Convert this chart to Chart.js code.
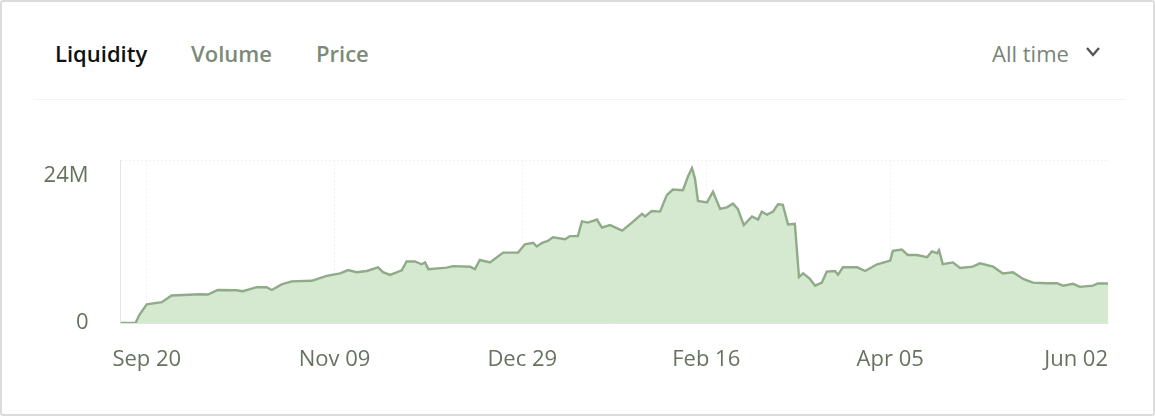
<!DOCTYPE html>
<html>
<head>
<meta charset="utf-8">
<script src="https://cdn.jsdelivr.net/npm/chart.js@4/dist/chart.umd.min.js"></script>
<style>
  html, body { margin: 0; padding: 0; background: #fff; }
  body { width: 1155px; height: 416px; position: relative; overflow: hidden; font-family: "Open Sans", sans-serif; }
  .card { position: absolute; left: 0; top: 0; width: 1151px; height: 412px; border: 2px solid #dcdcdc; border-radius: 3px; }
  .tab { position: absolute; top: 38px; font-size: 22px; font-weight: 600; color: #7c8a78; line-height: 30px; }
  .tab.active { color: #111; }
  .range { position: absolute; top: 38px; left: 992px; font-size: 22px; color: #7a8477; line-height: 30px; }
  .chev { position: absolute; left: 1085px; top: 46px; }
  .divider { position: absolute; left: 33px; top: 99px; width: 1092px; height: 1px; background: #f1f2f1; }
  #wrap { position: absolute; left: 0; top: 115px; width: 1155px; height: 265px; }
</style>
</head>
<body>
<div class="card"></div>
<div class="tab active" style="left:55px">Liquidity</div>
<div class="tab" style="left:191px">Volume</div>
<div class="tab" style="left:316px">Price</div>
<div class="range">All time</div>
<svg class="chev" width="16" height="12" viewBox="0 0 16 12"><polyline points="2,2 8,9 14,2" fill="none" stroke="#555" stroke-width="2.4"/></svg>
<div class="divider"></div>
<div id="wrap"><canvas id="chart"></canvas></div>
<script>
// days counted from Sep 13, liquidity in millions
const days = [0, 4, 5, 7, 11, 13.6, 21.2, 23.3, 25.9, 30.9, 32.6, 36.3, 38.9, 40.3, 42.9, 45.6, 50.9, 54.9,
  58.5, 60.6, 62.9, 65.6, 68.6, 69.9, 71.8, 74.9, 76.2, 78.4, 80.2, 81.1, 82, 86.9, 88.5, 93.1, 94.4,
  95.7, 98.4, 101.9, 105.9, 107.7, 109.9, 110.9, 112.3, 113.8, 115.2, 118.4, 119.7, 121.8, 122.9,
  124.5, 126.9, 128.2, 130.4, 133.6, 136.2, 138.9, 139.7, 141.5, 143.7, 145.5, 147.1, 149.8, 151.1,
  152.2, 153, 153.8, 156.2, 157.8, 159.7, 161.5, 163.1, 164.4, 166, 168.2, 169.8, 170.8, 172.2, 173.8,
  175.1, 176.4, 177.8, 179.6, 180.7, 181.8, 183.6, 185, 186.8, 188.1, 190.3, 191.1, 192.4, 196.2,
  198.3, 201.5, 205, 205.7, 208.1, 209.7, 212.1, 214.8, 216.1, 217.5, 218, 219, 221.7, 223.6, 227,
  228.9, 232.4, 235, 237.7, 240.4, 243, 246.8, 249.4, 251, 253.7, 255.5, 259, 260.3, 263];
const liquidity = [0, 0, 1.3, 3.06, 3.4, 4.5, 4.7, 4.65, 5.4, 5.35, 5.2, 5.85, 5.85, 5.4, 6.3, 6.8, 6.9, 7.7,
  8.1, 8.65, 8.3, 8.5, 9.1, 8.3, 7.85, 8.6, 10.05, 10.05, 9.6, 9.9, 8.8, 9.05, 9.3, 9.2, 8.8,
  10.3, 9.9, 11.5, 11.5, 12.85, 13.1, 12.5, 13.1, 13.4, 14.0, 13.7, 14.2, 14.2, 16.6,
  16.4, 16.9, 15.6, 16.0, 15.1, 16.4, 17.85, 17.4, 18.3, 18.2, 20.9, 21.8, 21.7, 23.9,
  25.3, 23.6, 19.95, 19.7, 21.45, 18.65, 18.9, 19.5, 18.65, 16.0, 17.4, 16.9, 18.2, 17.7, 18.2,
  19.4, 19.3, 16.1, 16.2, 7.5, 8.1, 7.2, 6.1, 6.6, 8.4, 8.5, 7.9, 9.1, 9.1,
  8.5, 9.6, 10.2, 11.8, 12.0, 11.1, 11.1, 10.75, 11.7, 11.4, 11.9, 9.6, 9.9, 9.0, 9.2,
  9.75, 9.2, 8.1, 8.3, 7.2, 6.6, 6.5, 6.5, 6.1, 6.4, 5.9, 6.1, 6.45, 6.45];
const xTickDays = [0, 7, 57, 107, 156, 205, 263];
const xTickLabels = ["", "Sep 20", "Nov 09", "Dec 29", "Feb 16", "Apr 05", "Jun 02"];
const yTicks = [0, 24, 26.6];
const yTickLabels = ["0", "24M", ""];

const points = days.map((d, i) => ({ x: d, y: liquidity[i] }));
const tickFont = { family: "Open Sans", size: 22 };

new Chart(document.getElementById("chart"), {
  type: "line",
  data: {
    datasets: [{
      data: points,
      borderColor: "#8fab88",
      borderWidth: 2.4,
      backgroundColor: "#d4e9cf",
      fill: "origin",
      pointRadius: 0,
      tension: 0
    }]
  },
  options: {
    responsive: true,
    maintainAspectRatio: false,
    animation: false,
    layout: { padding: { top: 8, right: 47, left: 0, bottom: 0 } },
    plugins: { legend: { display: false }, tooltip: { enabled: false } },
    scales: {
      x: {
        type: "linear",
        min: 0,
        max: 263,
        afterBuildTicks: (scale) => { scale.ticks = xTickDays.map(v => ({ value: v })); },
        afterFit: (scale) => { scale.height = 57; },
        ticks: {
          autoSkip: false,
          maxRotation: 0,
          align: "inner",
          padding: 24,
          color: "#66735f",
          font: tickFont,
          callback: (v) => xTickLabels[xTickDays.indexOf(v)]
        },
        grid: {
          drawTicks: false,
          color: (c) => (c.index === 0 || c.index === xTickDays.length - 1) ? "rgba(0,0,0,0)" : "#eef2ed",
          lineWidth: 1
        },
        border: { display: true, color: "#dfe7dc", dash: [2, 2] }
      },
      y: {
        min: 0,
        max: 26.6,
        afterBuildTicks: (scale) => { scale.ticks = yTicks.map(v => ({ value: v })); },
        afterFit: (scale) => { scale.width = 120.5; },
        ticks: {
          padding: 32,
          color: "#66735f",
          font: tickFont,
          callback: (v) => yTickLabels[yTicks.indexOf(v)]
        },
        grid: {
          drawTicks: false,
          color: (c) => c.tick && c.tick.value === 26.6 ? "#f0f2f0" : "rgba(0,0,0,0)"
        },
        border: { display: true, color: "#e3e9e0", dash: [2, 2] }
      }
    }
  }
});
</script>
</body>
</html>
